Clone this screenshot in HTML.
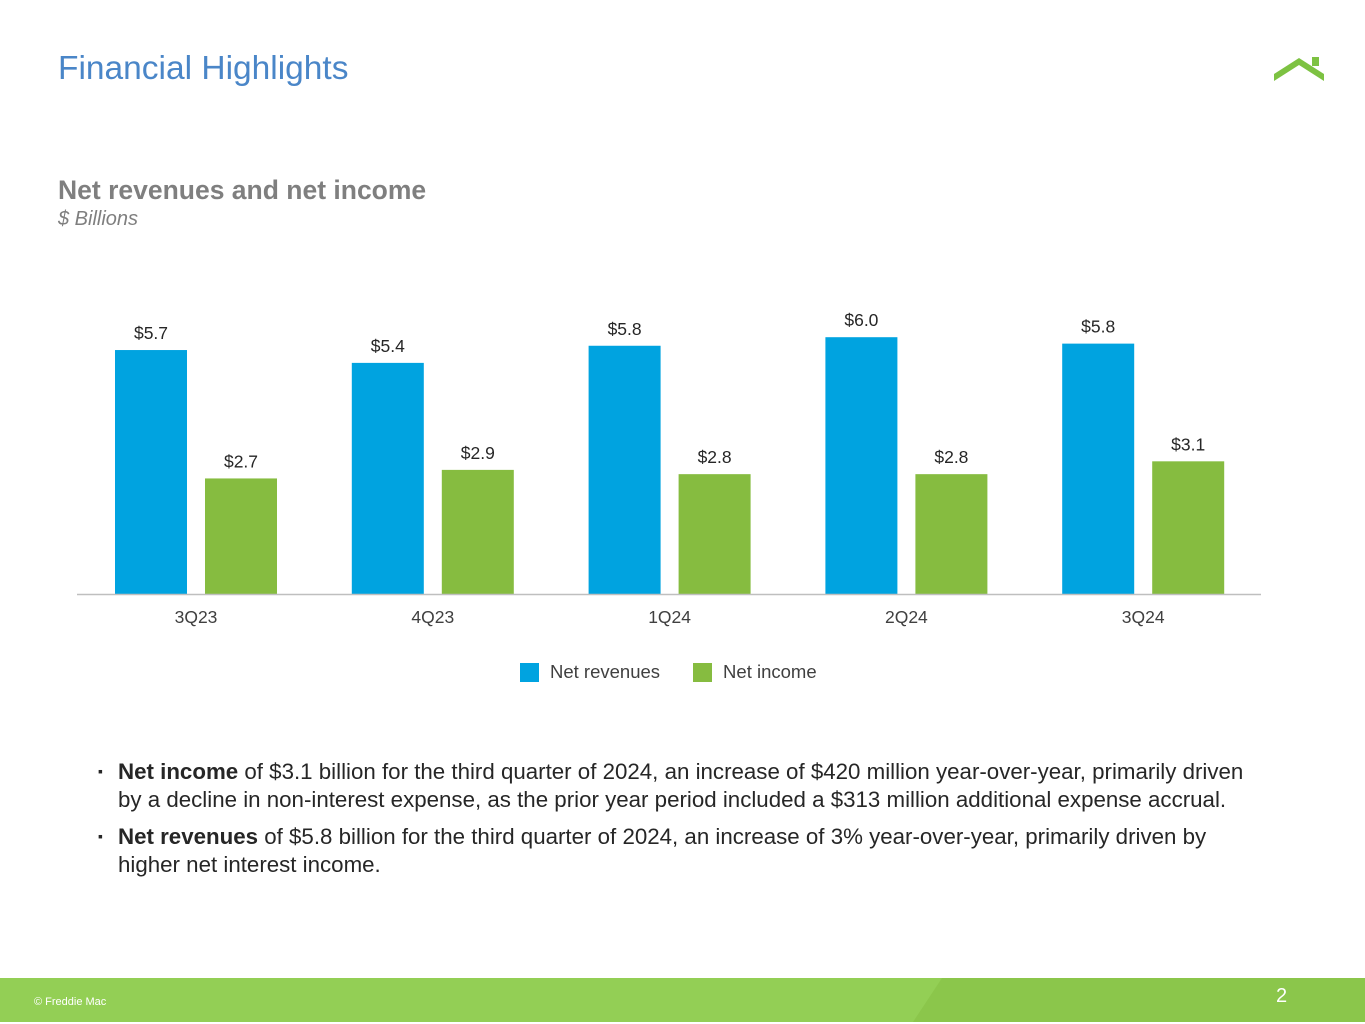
<!DOCTYPE html>
<html><head><meta charset="utf-8"><style>
body{margin:0;width:1365px;height:1024px;position:relative;background:#fff;font-family:"Liberation Sans",sans-serif;overflow:hidden}
.abs{position:absolute}
</style></head><body>
<div class="abs" style="left:58px;top:50px;font-size:33.5px;color:#4a86c8">Financial Highlights</div>
<svg class="abs" style="left:1272px;top:55px" width="54" height="28" viewBox="0 0 54 28"><polygon points="2,19 27,3 52,19 52,26 27,10 2,26" fill="#7dc242"/><rect x="40" y="2" width="7" height="9" fill="#7dc242"/></svg>
<div class="abs" style="left:58px;top:175px;font-size:26.5px;font-weight:bold;color:#7f7f7f">Net revenues and net income</div>
<div class="abs" style="left:58px;top:208px;font-size:20px;font-style:italic;color:#7f7f7f">$ Billions</div>
<svg class="abs" id="chart" style="left:0;top:0" width="1365" height="700"></svg>
<div class="abs" style="left:520px;top:661px;font-size:18.5px;color:#404040;display:flex;align-items:center">
<span style="display:flex;align-items:center"><span style="width:19px;height:19px;background:#00a3e0;display:inline-block;margin-right:11px"></span>Net revenues</span>
<span style="display:flex;align-items:center;margin-left:33px"><span style="width:19px;height:19px;background:#86bc40;display:inline-block;margin-right:11px"></span>Net income</span>
</div>
<div class="abs" style="left:98px;top:758px;width:1170px;font-size:22.3px;line-height:27.5px;color:#262626">
<div style="position:relative;padding-left:20px;margin-bottom:10px"><span style="position:absolute;left:0;font-size:14px">▪</span><b>Net income</b> of $3.1 billion for the third quarter of 2024, an increase of $420 million year-over-year, primarily driven by a decline in non-interest expense, as the prior year period included a $313 million additional expense accrual.</div>
<div style="position:relative;padding-left:20px;width:1130px"><span style="position:absolute;left:0;font-size:14px">▪</span><b>Net revenues</b> of $5.8 billion for the third quarter of 2024, an increase of 3% year-over-year, primarily driven by higher net interest income.</div>
</div>
<svg class="abs" style="left:0;top:978px" width="1365" height="44"><rect width="1365" height="44" fill="#93cf55"/><polygon points="942,0 1365,0 1365,44 913,44" fill="#8bc64b"/></svg>
<div class="abs" style="left:34px;top:996px;font-size:11px;color:#fff">© Freddie Mac</div>
<div class="abs" style="left:1276px;top:985px;font-size:20px;color:#fff">2</div>
<script>
const categories=["3Q23","4Q23","1Q24","2Q24","3Q24"];
const netRevenues=[5.7,5.4,5.8,6.0,5.85];
const netIncome=[2.7,2.9,2.8,2.8,3.1];
const svg=document.getElementById('chart');
const NS='http://www.w3.org/2000/svg';
const base=594,scale=42.8,x0=115,step=236.8,bw=72;
function y(v){return base-v*scale}
function mk(t,a){const e=document.createElementNS(NS,t);for(const k in a)e.setAttribute(k,a[k]);svg.appendChild(e);return e}
categories.forEach((c,i)=>{
 const xb=x0+i*step,xg=xb+90;
 const r1=mk('rect',{x:xb,y:y(netRevenues[i]),width:bw,height:base-y(netRevenues[i]),fill:'#00a3e0'});
 
 
 const r2=mk('rect',{x:xg,y:y(netIncome[i]),width:bw,height:base-y(netIncome[i]),fill:'#86bc40'});
 
 
 const t1=mk('text',{x:xb+bw/2,y:y(netRevenues[i])-11,'text-anchor':'middle','font-size':17.5,fill:'#262626'});
 t1.textContent='$'+netRevenues[i].toFixed(1);
 
 
 const t2=mk('text',{x:xg+bw/2,y:y(netIncome[i])-11,'text-anchor':'middle','font-size':17.5,fill:'#262626'});
 t2.textContent='$'+netIncome[i].toFixed(1);
 
 
 const tc=mk('text',{x:xb+81,y:623,'text-anchor':'middle','font-size':17.5,fill:'#404040'});
 tc.textContent=c;
 
 
});
const ax=mk('line',{x1:77,x2:1261,y1:base+0.5,y2:base+0.5,stroke:'#bfbfbf','stroke-width':1.5});


</script>
</body></html>
